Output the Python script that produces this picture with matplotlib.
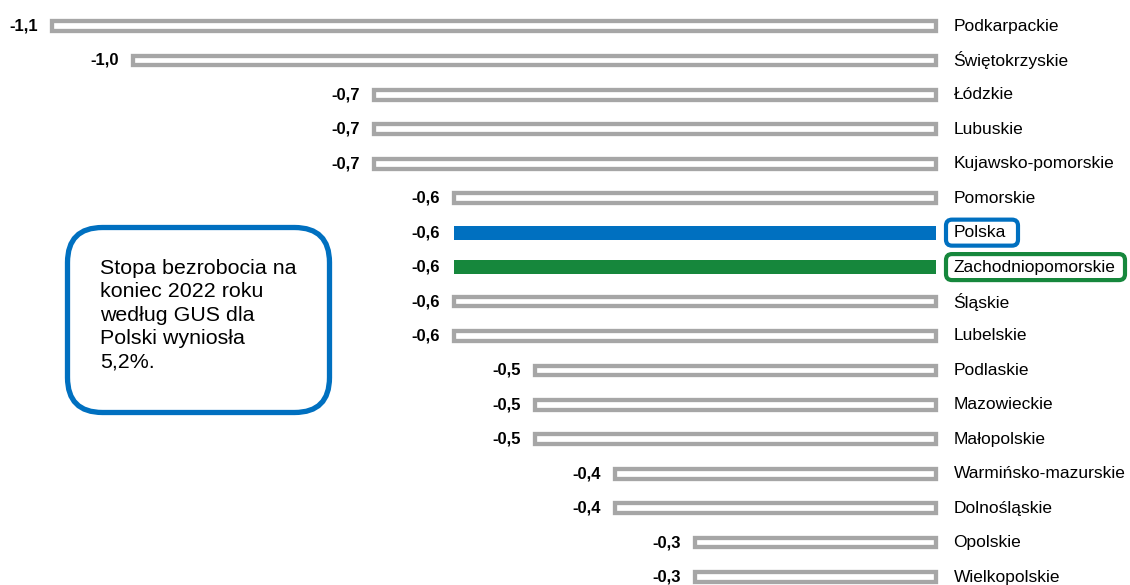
import matplotlib
matplotlib.use("Agg")
import matplotlib.pyplot as plt
from matplotlib.patches import FancyBboxPatch
from matplotlib.transforms import IdentityTransform

plt.rcParams['font.family'] = ['Liberation Sans', 'DejaVu Sans']

regions = ["Podkarpackie", "Świętokrzyskie", "Łódzkie", "Lubuskie", "Kujawsko-pomorskie",
           "Pomorskie", "Polska", "Zachodniopomorskie", "Śląskie", "Lubelskie",
           "Podlaskie", "Mazowieckie", "Małopolskie", "Warmińsko-mazurskie",
           "Dolnośląskie", "Opolskie", "Wielkopolskie"]
values = [-1.1, -1.0, -0.7, -0.7, -0.7, -0.6, -0.6, -0.6, -0.6, -0.6,
          -0.5, -0.5, -0.5, -0.4, -0.4, -0.3, -0.3]
highlight = {"Polska": "#0070C0", "Zachodniopomorskie": "#16873C"}
note = "Stopa bezrobocia na\nkoniec 2022 roku\nwedług GUS dla\nPolski wyniosła\n5,2%."

W, H, DPI = 1130, 585, 100
fig = plt.figure(figsize=(W / DPI, H / DPI), dpi=DPI)
ax = fig.add_axes([0, 0, 1, 1])

pxu = 804.0      # pixels per unit
x0 = 936.5       # zero position in px
row0, rowh = 26, 34.44
ax.set_xlim(-x0 / pxu, (W - x0) / pxu)
ax.set_ylim((H - row0) / rowh, -row0 / rowh)
ax.axis('off')

gray = "#A6A6A6"
for i, (r, v) in enumerate(zip(regions, values)):
    if r in highlight:
        ax.barh(i, v, height=0.40, color=highlight[r], edgecolor='none')
    else:
        ax.barh(i, v, height=0.28, facecolor='white', edgecolor=gray, linewidth=3.1)
    ax.text(v - 14 / pxu, i, f"{v:.1f}".replace('.', ','), ha='right', va='center',
            fontsize=12, fontweight='bold', color='black')
    ax.text(17 / pxu, i, r, ha='left', va='center', fontsize=12.5, color='black')
    if r in highlight:
        y = row0 + rowh * i
        w = 76 if r == "Polska" else 183
        fig.add_artist(FancyBboxPatch((946, H - y - 13), w - 4, 26,
                                      boxstyle="round,pad=0,rounding_size=6",
                                      transform=IdentityTransform(), facecolor='none',
                                      edgecolor=highlight[r], linewidth=3.0))

fig.add_artist(FancyBboxPatch((67.5, H - 412.5), 262, 185,
                              boxstyle="round,pad=0,rounding_size=35",
                              transform=IdentityTransform(), facecolor='white',
                              edgecolor="#0070C0", linewidth=3.8))
fig.text(100 / W, 1 - 259 / H, note, ha='left', va='top', fontsize=15.4,
         linespacing=1.29, color='black')

fig.savefig("out.png", dpi=DPI)
